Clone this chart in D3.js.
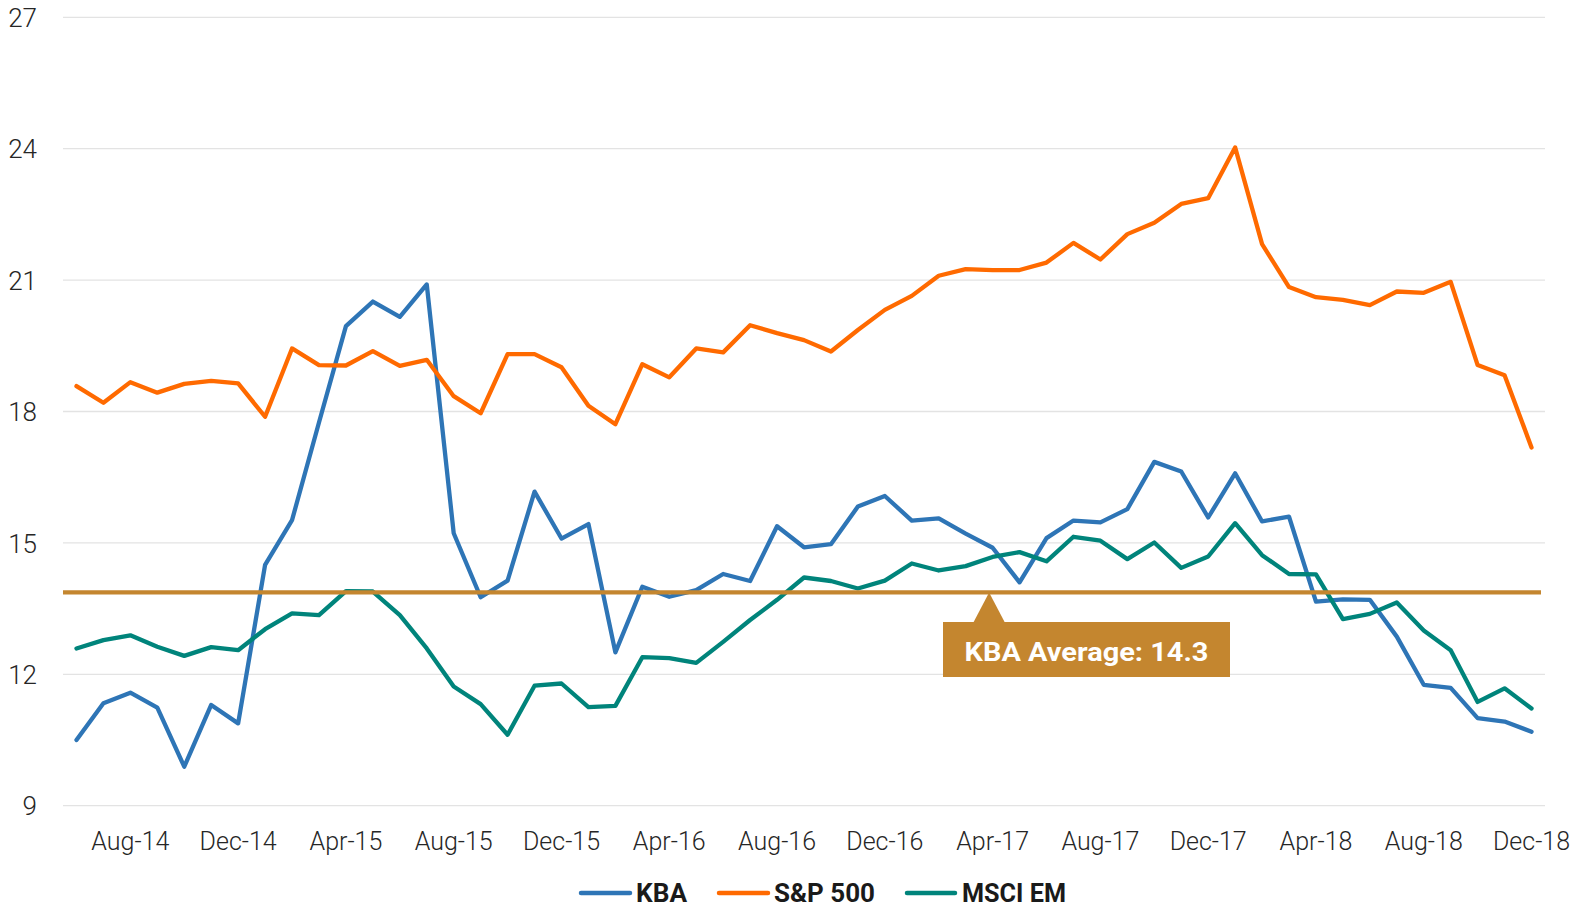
<!DOCTYPE html>
<html><head><meta charset="utf-8">
<script src="https://cdn.jsdelivr.net/npm/d3@7"></script>
<style>
html,body{margin:0;padding:0;background:#fff;}
svg{display:block;}
</style></head>
<body>
<svg id="chart" width="1580" height="909"></svg>
<script>
const months = ["Jun-14","Jul-14","Aug-14","Sep-14","Oct-14","Nov-14","Dec-14",
"Jan-15","Feb-15","Mar-15","Apr-15","May-15","Jun-15","Jul-15","Aug-15","Sep-15","Oct-15","Nov-15","Dec-15",
"Jan-16","Feb-16","Mar-16","Apr-16","May-16","Jun-16","Jul-16","Aug-16","Sep-16","Oct-16","Nov-16","Dec-16",
"Jan-17","Feb-17","Mar-17","Apr-17","May-17","Jun-17","Jul-17","Aug-17","Sep-17","Oct-17","Nov-17","Dec-17",
"Jan-18","Feb-18","Mar-18","Apr-18","May-18","Jun-18","Jul-18","Aug-18","Sep-18","Oct-18","Nov-18","Dec-18"];

const kba = [10.50,11.34,11.58,11.24,9.89,11.30,10.88,
14.50,15.52,17.75,19.95,20.51,20.16,20.90,15.22,13.76,14.14,16.17,15.10,
15.43,12.50,14.00,13.77,13.92,14.29,14.13,15.38,14.90,14.97,15.83,16.07,
15.51,15.56,15.21,14.89,14.10,15.11,15.51,15.47,15.77,16.85,16.63,15.58,
16.59,15.49,15.60,13.66,13.71,13.70,12.86,11.76,11.69,11.00,10.92,10.69];

const sp500 = [18.58,18.20,18.67,18.43,18.63,18.70,18.64,
17.88,19.44,19.06,19.05,19.38,19.04,19.18,18.35,17.96,19.31,19.31,19.01,
18.13,17.71,19.08,18.78,19.44,19.35,19.97,19.79,19.63,19.37,19.86,20.32,
20.64,21.10,21.25,21.23,21.23,21.40,21.85,21.47,22.05,22.31,22.74,22.87,
24.03,21.82,20.84,20.61,20.55,20.43,20.74,20.71,20.96,19.06,18.83,17.18];

const msciEm = [12.59,12.78,12.89,12.63,12.42,12.62,12.55,
13.03,13.39,13.35,13.90,13.89,13.35,12.59,11.72,11.32,10.62,11.74,11.79,
11.25,11.28,12.39,12.37,12.26,12.74,13.24,13.70,14.21,14.13,13.96,14.14,
14.53,14.37,14.47,14.68,14.79,14.58,15.14,15.05,14.63,15.01,14.43,14.69,
15.45,14.72,14.29,14.28,13.26,13.38,13.64,13.00,12.55,11.37,11.68,11.22];

const seriesNames = ["KBA","S&P 500","MSCI EM"];
const seriesColors = ["#2E75B6","#FF6A00","#00847B"];
const yTicks = [9,12,15,18,21,24,27];
const xTickLabels = ["Aug-14","Dec-14","Apr-15","Aug-15","Dec-15","Apr-16","Aug-16","Dec-16","Apr-17","Aug-17","Dec-17","Apr-18","Aug-18","Dec-18"];
const avgLineValue = 13.87;
const avgLabel = "KBA Average: 14.3";
const avgAnchorMonth = "Apr-17";

(function(){
const svg = d3.select("#chart");
const pLeft = 63, pRight = 1545, pTop = 17.3, pBottom = 805.7;
const x = d3.scaleBand().domain(months).range([pLeft, pRight]).padding(0);
const xc = d => x(d) + x.bandwidth()/2;
const y = d3.scaleLinear().domain([9,27]).range([pBottom, pTop]);

// gridlines
svg.append("g").selectAll("line").data(yTicks).join("line")
  .attr("x1", pLeft).attr("x2", pRight)
  .attr("y1", d => y(d)).attr("y2", d => y(d))
  .attr("stroke", "#E3E3E3").attr("stroke-width", 1.3);

// y labels
const yAxis = d3.axisLeft(y).tickValues(yTicks).tickSize(0).tickPadding(0);
const ya = svg.append("g").attr("transform", `translate(37,0)`).call(yAxis);
ya.select(".domain").remove();
ya.selectAll("text").attr("font-family","Roboto, 'Noto Sans', sans-serif").attr("font-weight",300)
  .attr("font-size", 26).attr("fill","#262626").attr("dy","0.35em");

// x labels
const xAxis = d3.axisBottom(x).tickValues(xTickLabels).tickSize(0).tickPadding(0);
const xa = svg.append("g").attr("transform", `translate(0,850)`).call(xAxis);
xa.select(".domain").remove();
xa.selectAll("text").attr("font-family","Roboto, 'Noto Sans', sans-serif").attr("font-weight",300)
  .attr("font-size", 25).attr("fill","#262626").attr("dy","0");

// series
const allSeries = [kba, sp500, msciEm];
const line = d3.line().x((d,i) => xc(months[i])).y(d => y(d));
allSeries.forEach((s, k) => {
  svg.append("path").datum(s).attr("d", line)
    .attr("fill","none").attr("stroke", seriesColors[k]).attr("stroke-width", 4.3)
    .attr("stroke-linejoin","round").attr("stroke-linecap","round");
});

// average line
const gold = "#C4862F";
svg.append("line").attr("x1", pLeft).attr("x2", 1541)
  .attr("y1", y(avgLineValue)).attr("y2", y(avgLineValue))
  .attr("stroke", gold).attr("stroke-width", 4.4);

// annotation
const ax = xc(avgAnchorMonth) - 3.5;
const ay = y(avgLineValue);
const boxTop = 622, boxBottom = 677, boxL = 943, boxR = 1230;
svg.append("path")
  .attr("d", `M${ax},${ay} L${ax-16},${boxTop+1} L${ax+16},${boxTop+1} Z`)
  .attr("fill", gold);
svg.append("rect").attr("x", boxL).attr("y", boxTop).attr("width", boxR-boxL).attr("height", boxBottom-boxTop)
  .attr("fill", gold);
svg.append("text").attr("x", (boxL+boxR)/2).attr("y", 660.5)
  .attr("text-anchor","middle").attr("font-family","Roboto, 'Noto Sans', sans-serif")
  .attr("font-weight",700).attr("font-size",26).attr("fill","#fff")
  .attr("textLength", 244).attr("lengthAdjust","spacingAndGlyphs")
  .text(avgLabel);

// legend
const legendItems = [
  {name: seriesNames[0], color: seriesColors[0], x1: 579, x2: 632, tx: 636, tw: 51},
  {name: seriesNames[1], color: seriesColors[1], x1: 717, x2: 770, tx: 774, tw: 101},
  {name: seriesNames[2], color: seriesColors[2], x1: 905, x2: 957, tx: 962, tw: 104}
];
const lg = svg.append("g");
legendItems.forEach(it => {
  lg.append("line").attr("x1", it.x1+2).attr("x2", it.x2-2).attr("y1", 893).attr("y2", 893)
    .attr("stroke", it.color).attr("stroke-width", 4.5).attr("stroke-linecap","round");
  lg.append("text").attr("x", it.tx).attr("y", 902)
    .attr("font-family","Roboto, 'Noto Sans', sans-serif").attr("font-weight",700)
    .attr("font-size",26).attr("fill","#1a1a1a")
    .attr("textLength", it.tw).attr("lengthAdjust","spacingAndGlyphs")
    .text(it.name);
});
})();
</script>
</body></html>
